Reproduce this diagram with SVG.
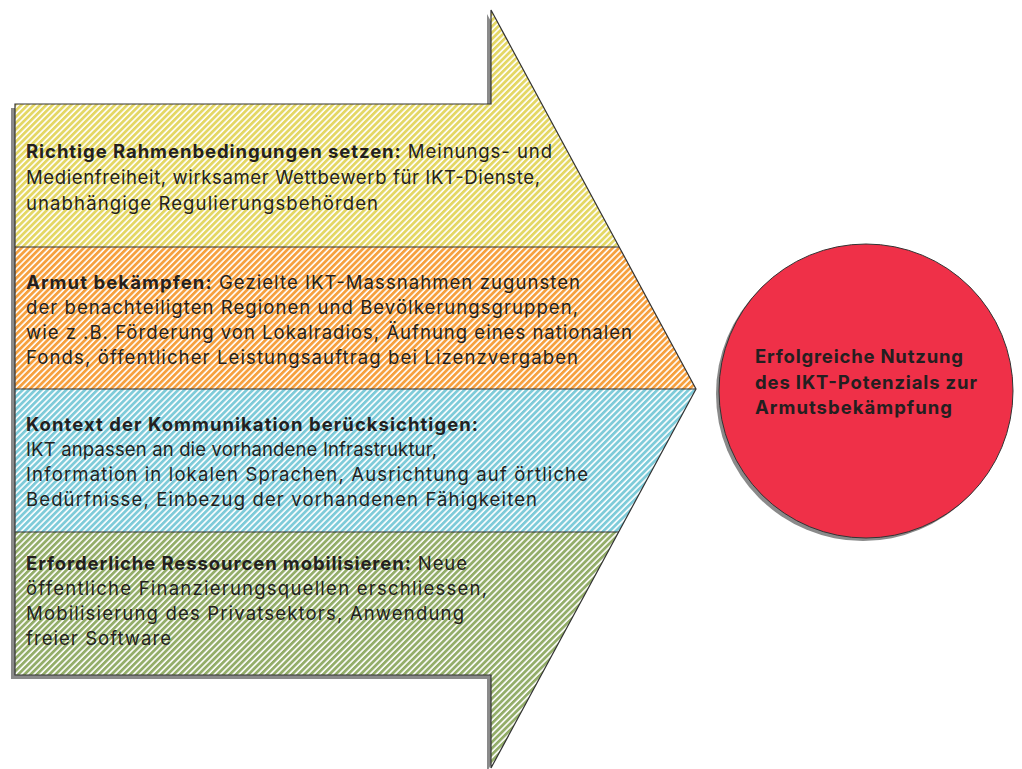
<svg xmlns="http://www.w3.org/2000/svg" width="1022" height="769" viewBox="0 0 1022 769">
<style>
.t{font-family:Inter,"Liberation Sans",Arial,sans-serif;font-size:18.5px;fill:#231f20}
.b{font-weight:bold}
.div{stroke:#333;stroke-width:1.2}
</style>
<defs>
<pattern id="pY" width="4.4" height="10" patternUnits="userSpaceOnUse" patternTransform="rotate(45)"><rect width="4.4" height="10" fill="#fff"/><rect width="2.8" height="10" fill="#e4d764"/></pattern>
<pattern id="pO" width="4.4" height="10" patternUnits="userSpaceOnUse" patternTransform="rotate(45)"><rect width="4.4" height="10" fill="#fff"/><rect width="2.8" height="10" fill="#f6a03e"/></pattern>
<pattern id="pB" width="4.4" height="10" patternUnits="userSpaceOnUse" patternTransform="rotate(45)"><rect width="4.4" height="10" fill="#fff"/><rect width="2.8" height="10" fill="#7ecbd9"/></pattern>
<pattern id="pG" width="4.4" height="10" patternUnits="userSpaceOnUse" patternTransform="rotate(45)"><rect width="4.4" height="10" fill="#fff"/><rect width="2.8" height="10" fill="#93ad69"/></pattern>
<clipPath id="arrowClip"><path d="M15,104 H491 V10 L696,389 L491,768 V675 H15 Z"/></clipPath>
</defs>
<path d="M11,108 H487 V14 L692,393 L487,772 V679 H11 Z" fill="#8a8a8a"/>
<g id="band1" clip-path="url(#arrowClip)"><rect x="15" y="0" width="690" height="247" fill="url(#pY)"/></g>
<g id="band2" clip-path="url(#arrowClip)"><rect x="15" y="247" width="690" height="142" fill="url(#pO)"/></g>
<g id="band3" clip-path="url(#arrowClip)"><rect x="15" y="389" width="690" height="143" fill="url(#pB)"/></g>
<g id="band4" clip-path="url(#arrowClip)"><rect x="15" y="532" width="690" height="240" fill="url(#pG)"/></g>
<g id="outline">
<path d="M15,104 H491 V10 L696,389 L491,768 V675 H15 Z" fill="none" stroke="#333" stroke-width="1.2"/>
<line class="div" x1="15" y1="247" x2="619" y2="247"/>
<line class="div" x1="15" y1="389" x2="696" y2="389"/>
<line class="div" x1="15" y1="532" x2="619" y2="532"/>
</g>
<g id="text1">
<text class="t" x="26" y="158" textLength="526"><tspan class="b">Richtige Rahmenbedingungen setzen:</tspan> Meinungs- und</text>
<text class="t" x="26" y="184" textLength="514">Medienfreiheit, wirksamer Wettbewerb für IKT-Dienste,</text>
<text class="t" x="26" y="210" textLength="352">unabhängige Regulierungsbehörden</text>
</g>
<g id="text2">
<text class="t" x="26" y="289" textLength="554"><tspan class="b">Armut bekämpfen:</tspan> Gezielte IKT-Massnahmen zugunsten</text>
<text class="t" x="26" y="314" textLength="552">der benachteiligten Regionen und Bevölkerungsgruppen,</text>
<text class="t" x="26" y="339" textLength="606">wie z .B. Förderung von Lokalradios, Äufnung eines nationalen</text>
<text class="t" x="26" y="364" textLength="552">Fonds, öffentlicher Leistungsauftrag bei Lizenzvergaben</text>
</g>
<g id="text3">
<text class="t b" x="26" y="431" textLength="452">Kontext der Kommunikation berücksichtigen:</text>
<text class="t" x="26" y="456" textLength="411">IKT anpassen an die vorhandene Infrastruktur,</text>
<text class="t" x="26" y="481" textLength="562">Information in lokalen Sprachen, Ausrichtung auf örtliche</text>
<text class="t" x="26" y="506" textLength="511">Bedürfnisse, Einbezug der vorhandenen Fähigkeiten</text>
</g>
<g id="text4">
<text class="t" x="26" y="570" textLength="441"><tspan class="b">Erforderliche Ressourcen mobilisieren:</tspan> Neue</text>
<text class="t" x="26" y="595" textLength="461">öffentliche Finanzierungsquellen erschliessen,</text>
<text class="t" x="26" y="620" textLength="438">Mobilisierung des Privatsektors, Anwendung</text>
<text class="t" x="26" y="645" textLength="145">freier Software</text>
</g>
<g id="goal">
<circle cx="863" cy="394" r="147" fill="#8a8a8a"/>
<circle cx="866" cy="391" r="147" fill="#ef3048" stroke="#333" stroke-width="1"/>
<text class="t b" x="755" y="363" textLength="208">Erfolgreiche Nutzung</text>
<text class="t b" x="755" y="389" textLength="222">des IKT-Potenzials zur</text>
<text class="t b" x="755" y="414" textLength="197">Armutsbekämpfung</text>
</g>
</svg>
